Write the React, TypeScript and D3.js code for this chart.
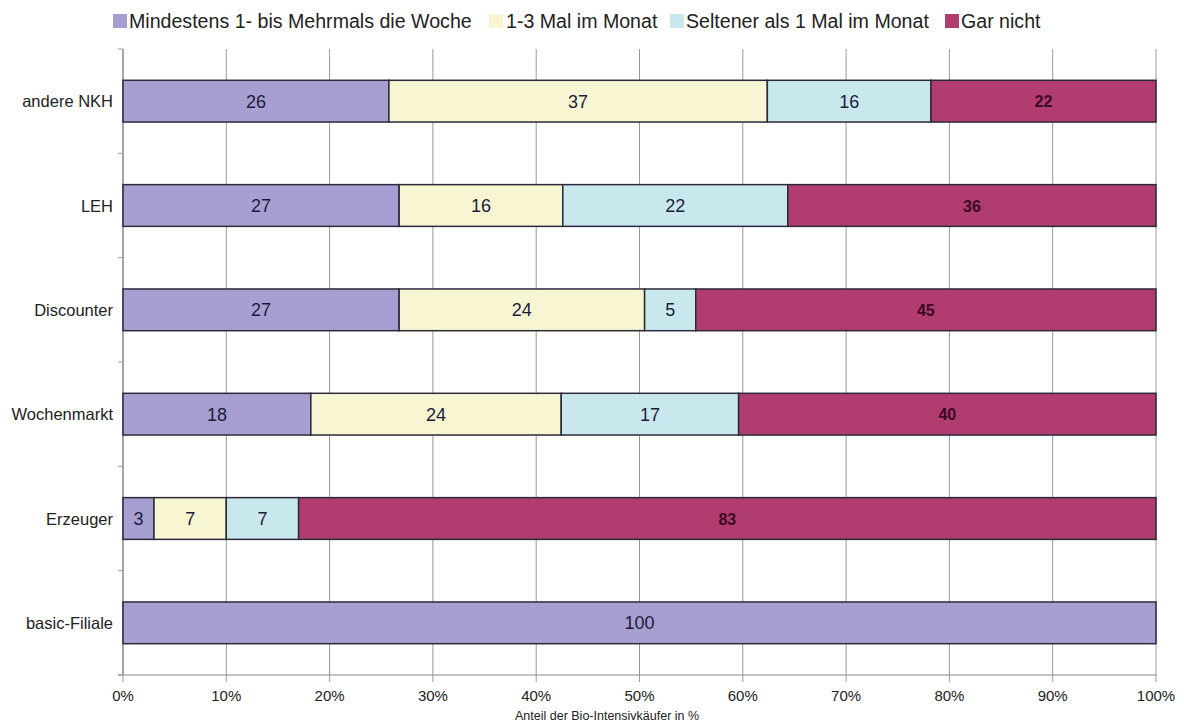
import React from "react";
import * as d3 from "d3";

// Shopping frequency of organic intensive buyers by outlet type
const categories = ["andere NKH", "LEH", "Discounter", "Wochenmarkt", "Erzeuger", "basic-Filiale"];
const weekly = [26, 27, 27, 18, 3, 100];
const monthly = [37, 16, 24, 24, 7, 0];
const rarely = [16, 22, 5, 17, 7, 0];
const never = [22, 36, 45, 40, 83, 0];
const seriesNames = [
  "Mindestens 1- bis Mehrmals die Woche",
  "1-3 Mal im Monat",
  "Seltener als 1 Mal im Monat",
  "Gar nicht",
];
const xTicks = [0, 10, 20, 30, 40, 50, 60, 70, 80, 90, 100];
const xTitle = "Anteil der Bio-Intensivkäufer in %";

const colors = ["#a79fd1", "#f8f5d2", "#c9e8ee", "#b03c70"];
const labelColors = ["#1d1b3c", "#1d1b3c", "#1d1b3c", "#3d0a24"];
const legendSwatchX = [113, 489, 670, 945];
const legendTextX = [129, 506, 686, 961];

const W = 1184;
const H = 727;
const left = 123;
const right = 1156;
const top = 49;
const bottom = 675;
const FONT = "'Liberation Sans', Arial, Helvetica, sans-serif";

export default function App() {
  const series = [weekly, monthly, rarely, never];
  const x = d3.scaleLinear().domain([0, 100]).range([left, right]);
  const y = d3
    .scaleBand<string>()
    .domain(categories)
    .range([top, bottom])
    .paddingInner(0.6)
    .paddingOuter(0.3);
  const step = y.step();

  // Each row is scaled to 100 % of its own total
  const rows = categories.map((cat, i) => {
    const vals = series.map((s) => s[i]);
    const total = d3.sum(vals);
    let acc = 0;
    const segs = vals.map((v, k) => {
      const x0 = (acc / total) * 100;
      acc += v;
      const x1 = (acc / total) * 100;
      return { v, k, x0, x1 };
    });
    return { cat, segs };
  });

  return (
    <svg
      width={W}
      height={H}
      style={{ position: "absolute", left: 0, top: 0, background: "#fff" }}
      fontFamily={FONT}
    >
      {/* legend */}
      {seriesNames.map((name, k) => (
        <g key={name}>
          <rect x={legendSwatchX[k]} y={14} width={14} height={14} fill={colors[k]} />
          <text x={legendTextX[k]} y={27.5} fontSize={19.6} fill="#222">
            {name}
          </text>
        </g>
      ))}

      {/* vertical grid */}
      {xTicks.map((t) => (
        <g key={t}>
          <line x1={x(t)} x2={x(t)} y1={top} y2={bottom + 7} stroke="#9a9a9a" strokeWidth={1} />
          <text x={x(t)} y={701} fontSize={15} textAnchor="middle" fill="#222">
            {t}%
          </text>
        </g>
      ))}

      {/* axes */}
      <line x1={left} x2={left} y1={top} y2={bottom} stroke="#8a8a8a" strokeWidth={1.2} />
      <line x1={left - 5} x2={right} y1={bottom} y2={bottom} stroke="#8a8a8a" strokeWidth={1.2} />
      {d3.range(categories.length + 1).map((i) => (
        <line
          key={i}
          x1={left - 5}
          x2={left}
          y1={top + i * step}
          y2={top + i * step}
          stroke="#9a9a9a"
          strokeWidth={1}
        />
      ))}

      {/* bars */}
      {rows.map(({ cat, segs }) => {
        const y0 = y(cat)!;
        const bh = y.bandwidth();
        return (
          <g key={cat}>
            <text
              x={left - 10}
              y={y0 + bh / 2 + 6}
              fontSize={16.5}
              textAnchor="end"
              fill="#222"
            >
              {cat}
            </text>
            {segs
              .filter((s) => s.v > 0)
              .map((s) => (
                <g key={s.k}>
                  <rect
                    x={x(s.x0)}
                    y={y0}
                    width={x(s.x1) - x(s.x0)}
                    height={bh}
                    fill={colors[s.k]}
                    stroke="#2c2a3a"
                    strokeWidth={1.5}
                  />
                  <text
                    x={(x(s.x0) + x(s.x1)) / 2}
                    y={y0 + bh / 2 + (s.k === 3 ? 6 : 6.5)}
                    textAnchor="middle"
                    fontSize={s.k === 3 ? 16 : 18}
                    fontWeight={s.k === 3 ? 600 : 400}
                    fill={labelColors[s.k]}
                  >
                    {s.v}
                  </text>
                </g>
              ))}
          </g>
        );
      })}

      {/* x axis title */}
      <text x={515} y={720} fontSize={12.5} fill="#222">
        {xTitle}
      </text>
    </svg>
  );
}
